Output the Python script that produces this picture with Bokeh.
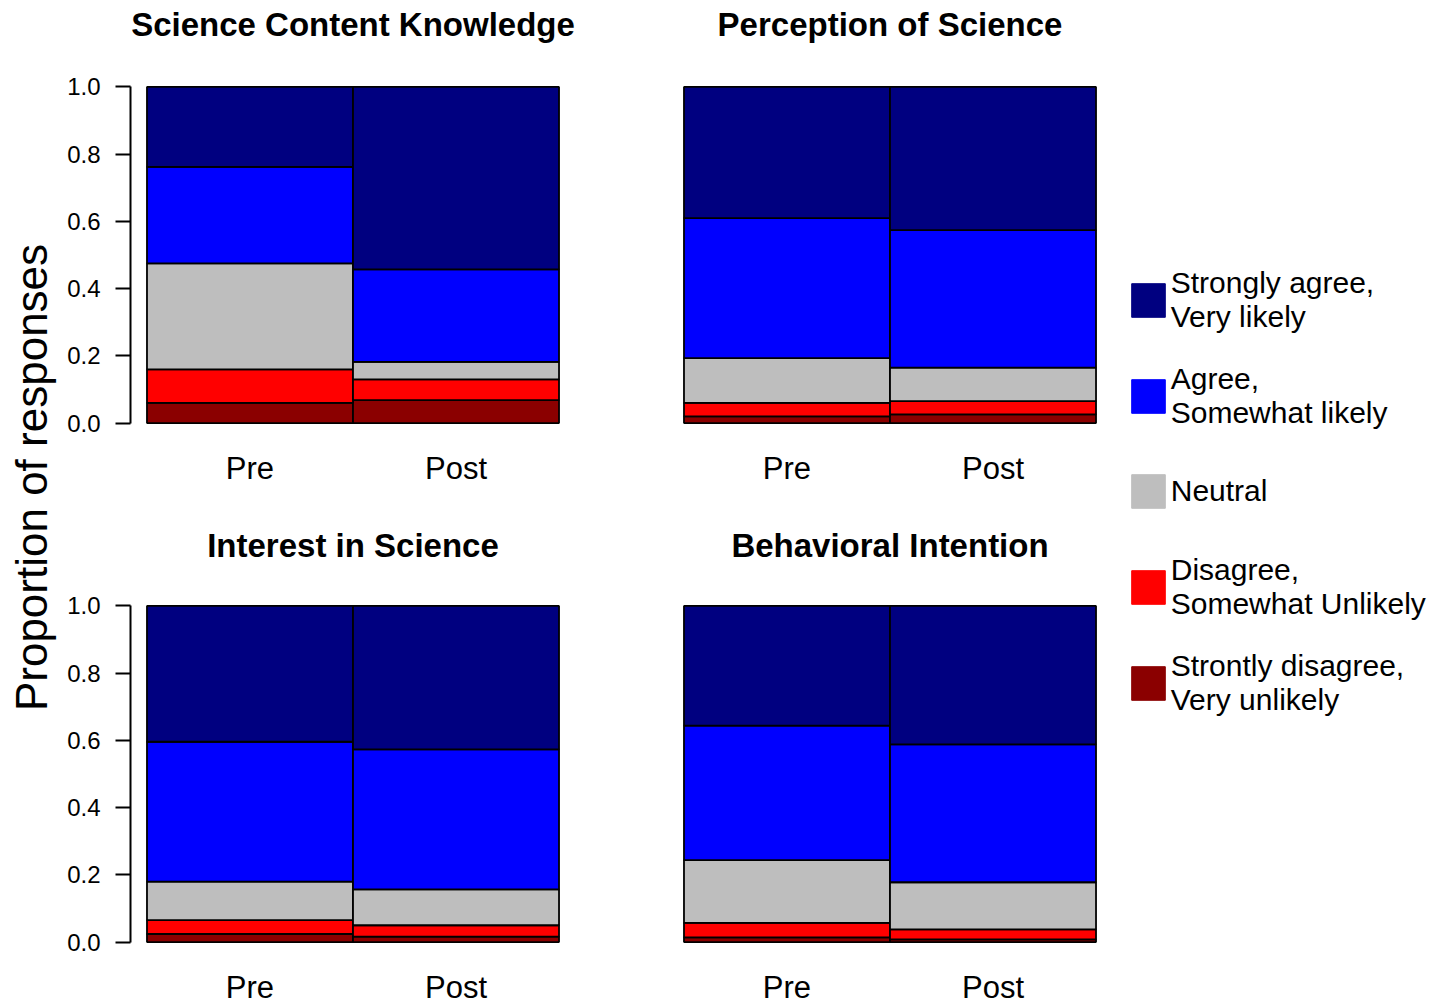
import math
from bokeh.plotting import figure
from bokeh.layouts import row, column
from bokeh.models import (FixedTicker, Legend, LegendItem, Label, ColumnDataSource,
                          Range1d, NumeralTickFormatter)
from bokeh.embed import file_html
from bokeh.resources import INLINE

# ---------------- data ----------------
timepoints = ["Pre", "Post"]
panel_titles = ["Science Content Knowledge", "Perception of Science",
                "Interest in Science", "Behavioral Intention"]
level_keys = ["sd", "d", "n", "a", "sa"]   # bottom -> top
level_labels = ["Strontly disagree,\nVery unlikely",
                "Disagree,\nSomewhat Unlikely",
                "Neutral",
                "Agree,\nSomewhat likely",
                "Strongly agree,\nVery likely"]
level_colors = ["#8B0000", "#FF0000", "#BEBEBE", "#0000FF", "#000080"]

# proportions per level (strongly disagree, disagree, neutral, agree, strongly agree)
sck_pre = [0.060, 0.100, 0.315, 0.287, 0.238]
sck_post = [0.068, 0.062, 0.052, 0.275, 0.543]
pos_pre = [0.020, 0.040, 0.133, 0.417, 0.390]
pos_post = [0.026, 0.039, 0.100, 0.409, 0.426]
int_pre = [0.024, 0.041, 0.115, 0.416, 0.404]
int_post = [0.016, 0.034, 0.107, 0.416, 0.427]
beh_pre = [0.014, 0.043, 0.187, 0.400, 0.356]
beh_post = [0.008, 0.030, 0.140, 0.410, 0.412]

y_ticks = [0.0, 0.2, 0.4, 0.6, 0.8, 1.0]
y_label = "Proportion of responses"

FONT = "Liberation Sans"
FRAME_W, FRAME_H = 445, 363


def make_source(pre, post):
    return ColumnDataSource(dict(x=[0.5, 1.5], **{k: [pre[i], post[i]] for i, k in enumerate(level_keys)}))


def bare_figure(w, h):
    f = figure(frame_width=w, frame_height=h, x_range=(0, 1), y_range=(0, 1),
               x_axis_location=None, y_axis_location=None, min_border=0,
               output_backend="svg", toolbar_location=None)
    f.grid.visible = False
    f.outline_line_color = None
    return f


def make_panel(pre, post, show_y, b_left, b_right, b_top, b_bottom, xlabel_standoff):
    kw = dict(y_axis_location="left") if show_y else dict(y_axis_location=None)
    p = figure(frame_width=FRAME_W, frame_height=FRAME_H,
               x_range=Range1d(-0.08, 2.08), y_range=Range1d(-0.04, 1.04),
               output_backend="svg", toolbar_location=None,
               min_border_left=b_left, min_border_right=b_right,
               min_border_top=b_top, min_border_bottom=b_bottom, **kw)
    p.vbar_stack(level_keys, x="x", width=1.0, source=make_source(pre, post),
                 fill_color=level_colors, line_color="black", line_width=1.8)
    p.grid.visible = False
    p.outline_line_color = None
    p.background_fill_color = "white"
    p.border_fill_color = "white"

    xa = p.xaxis[0]
    xa.ticker = FixedTicker(ticks=[0.5, 1.5])
    xa.major_label_overrides = {0.5: timepoints[0], 1.5: timepoints[1]}
    xa.axis_line_color = None
    xa.major_tick_line_color = None
    xa.minor_tick_line_color = None
    xa.major_tick_out = 0
    xa.major_tick_in = 0
    xa.major_label_standoff = xlabel_standoff
    xa.major_label_text_font = FONT
    xa.major_label_text_font_size = "31px"
    xa.major_label_text_color = "black"

    if show_y:
        ya = p.yaxis[0]
        ya.ticker = FixedTicker(ticks=y_ticks)
        ya.formatter = NumeralTickFormatter(format="0.0")
        ya.bounds = (0, 1)
        ya.axis_line_width = 2
        ya.axis_line_color = "black"
        ya.major_tick_line_width = 2
        ya.major_tick_line_color = "black"
        ya.major_tick_out = 15
        ya.major_tick_in = 0
        ya.minor_tick_line_color = None
        ya.major_label_standoff = 15
        ya.major_label_text_font = FONT
        ya.major_label_text_font_size = "24px"
        ya.major_label_text_color = "black"
    return p


def title_strip(h, t_left, t_right, y_mid):
    s = bare_figure(1060, h)
    for x, t in ((292.5, t_left), (829.5, t_right)):
        s.add_layout(Label(x=x, y=y_mid, x_units="screen", y_units="screen", text=t,
                           text_align="center", text_baseline="middle", text_font=FONT,
                           text_font_size="33px", text_font_style="bold", text_color="black"))
    return s


# vertical geometry (page px): top frame 73..436, bottom frame 592..955
s1 = title_strip(60, panel_titles[0], panel_titles[1], 60 - 24.0)
p1 = make_panel(sck_pre, sck_post, True, 70, 45, 13, 84, 14)
p2 = make_panel(pos_pre, pos_post, False, 47, 8, 13, 84, 14)
s2 = title_strip(55, panel_titles[2], panel_titles[3], 55 - 24.5)
p3 = make_panel(int_pre, int_post, True, 70, 45, 17, 47, 14)
p4 = make_panel(beh_pre, beh_post, False, 47, 8, 17, 47, 14)

TOTAL_H = 60 + (13 + FRAME_H + 84) + 55 + (17 + FRAME_H + 47)

# shared y-axis label
yl = bare_figure(60, TOTAL_H)
yl.add_layout(Label(x=31, y=TOTAL_H - 477, x_units="screen", y_units="screen",
                    text=y_label, angle=math.pi / 2, text_align="center",
                    text_baseline="alphabetic", text_font=FONT,
                    text_font_size="44px", text_color="black"))

# legend figure (legend proxies are hidden copies of the stacked bars)
LW = 325
lf = bare_figure(LW, TOTAL_H)
proxies = lf.vbar_stack(level_keys, x="x", width=1.0, source=make_source(sck_pre, sck_post),
                        fill_color=level_colors, line_color=level_colors, line_width=1)
for r in proxies:
    r.visible = False

legend_bottoms = {4: 333.8, 3: 429.8, 2: 512.3, 1: 621.0, 0: 716.5}   # page px
for idx, bottom in legend_bottoms.items():
    leg = Legend(items=[LegendItem(label=level_labels[idx], renderers=[proxies[idx]])],
                 location=(6.75, TOTAL_H - bottom),
                 glyph_width=42, glyph_height=42, label_standoff=2,
                 label_text_font=FONT, label_text_font_size="30px",
                 label_text_color="black", label_text_line_height=1.3,
                 padding=0, margin=0, border_line_color=None,
                 background_fill_alpha=0, click_policy="none")
    lf.add_layout(leg)

layout = row(yl, column(s1, row(p1, p2), s2, row(p3, p4)), lf)
open("out.html", "w").write(file_html(layout, INLINE))
